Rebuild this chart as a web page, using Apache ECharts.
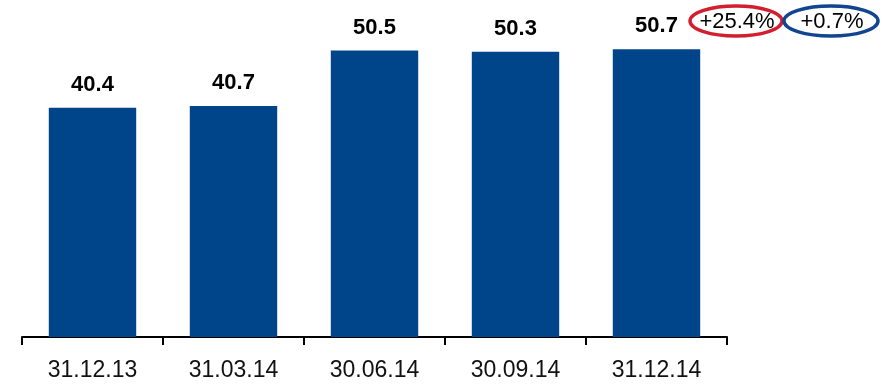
<!DOCTYPE html>
<html>
<head>
<meta charset="utf-8">
<script src="https://cdn.jsdelivr.net/npm/echarts@6/dist/echarts.min.js"></script>
<style>
  html, body { margin: 0; padding: 0; background: #fff; }
  #chart { width: 886px; height: 384px; }
</style>
</head>
<body>
<div id="chart"></div>
<script>
// Quarter-end dates and values
const categories = ['31.12.13', '31.03.14', '30.06.14', '30.09.14', '31.12.14'];
const values = [40.4, 40.7, 50.5, 50.3, 50.7];
// Growth badges shown next to the latest value
const yearChange = '+25.4%';
const quarterChange = '+0.7%';

const chart = echarts.init(document.getElementById('chart'), null, { renderer: 'canvas' });

chart.setOption({
  animation: false,
  grid: { left: 22, right: 159, top: 0, bottom: 47 },
  xAxis: {
    type: 'category',
    data: categories,
    boundaryGap: true,
    axisLine: { show: true, lineStyle: { color: '#000', width: 2 } },
    axisTick: { show: true, inside: false, length: 8, lineStyle: { color: '#000', width: 2 } },
    axisLabel: {
      color: '#111',
      fontFamily: 'Liberation Sans',
      fontSize: 23,
      margin: 22
    }
  },
  yAxis: {
    type: 'value',
    min: 0,
    max: 59.4,
    show: false,
    splitLine: { show: false }
  },
  series: [{
    type: 'bar',
    data: values,
    barWidth: '62%',
    itemStyle: { color: '#00448a' },
    label: {
      show: true,
      position: 'top',
      distance: 12,
      color: '#000',
      fontFamily: 'Liberation Sans',
      fontWeight: 'bold',
      fontSize: 22,
      formatter: p => p.value.toFixed(1)
    }
  }],
  graphic: [
    {
      type: 'ellipse',
      shape: { cx: 736, cy: 21, rx: 46, ry: 15 },
      style: { fill: 'none', stroke: '#d21f30', lineWidth: 3.5 }
    },
    {
      type: 'text',
      x: 737, y: 22,
      style: {
        text: yearChange, fill: '#000', font: '22px "Liberation Sans"',
        align: 'center', verticalAlign: 'middle'
      }
    },
    {
      type: 'ellipse',
      shape: { cx: 831, cy: 21, rx: 47, ry: 15 },
      style: { fill: 'none', stroke: '#12458f', lineWidth: 3.5 }
    },
    {
      type: 'text',
      x: 832, y: 22,
      style: {
        text: quarterChange, fill: '#000', font: '22px "Liberation Sans"',
        align: 'center', verticalAlign: 'middle'
      }
    }
  ]
});
</script>
</body>
</html>
